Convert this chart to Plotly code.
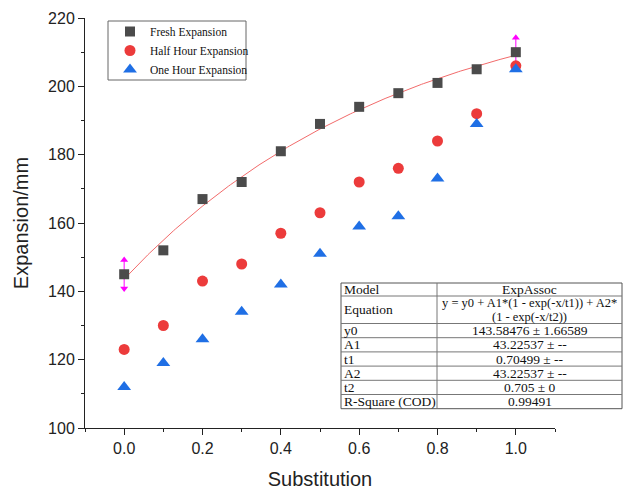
import numpy as np
import plotly.graph_objects as go

# ---- data ----
substitution = [0.0, 0.1, 0.2, 0.3, 0.4, 0.5, 0.6, 0.7, 0.8, 0.9, 1.0]
fresh = [145, 152, 167, 172, 181, 189, 194, 198, 201, 205, 210]
half_hour = [123, 130, 143, 148, 157, 163, 172, 176, 184, 192, 206]
one_hour = [112, 119, 126, 134, 142, 151, 159, 162, 173, 189, 205]

# fit parameters (ExpAssoc) as shown in the table
fit_y0 = 143.58476
fit_A1 = 43.22537
fit_t1 = 0.70499
fit_A2 = 43.22537
fit_t2 = 0.705

table_rows = [
    ("Model", ["ExpAssoc"]),
    ("Equation", ["y = y0 + A1*(1 - exp(-x/t1)) + A2*", "(1 - exp(-x/t2))"]),
    ("y0", ["143.58476 ± 1.66589"]),
    ("A1", ["43.22537 ± --"]),
    ("t1", ["0.70499 ± --"]),
    ("A2", ["43.22537 ± --"]),
    ("t2", ["0.705 ± 0"]),
    ("R-Square (COD)", ["0.99491"]),
]

# ---- figure geometry (pixels) ----
W, H = 625, 495
ML, MR, MT, MB = 85, 70, 18, 67
PW, PH = W - ML - MR, H - MT - MB


def px(xp):
    return (xp - ML) / PW


def py(yp):
    return (H - MB - yp) / PH


fig = go.Figure()

# fit curve
xf = np.linspace(min(substitution), max(substitution), 200)
yf = fit_y0 + fit_A1 * (1 - np.exp(-xf / fit_t1)) + fit_A2 * (1 - np.exp(-xf / fit_t2))
fig.add_trace(go.Scatter(x=xf, y=yf, mode="lines", line=dict(color="#f26b6b", width=1),
                         showlegend=False, hoverinfo="skip"))

# fit-range arrows at the first and last fresh points
arrow_off = 4.2
for xi, yi in [(substitution[0], fresh[0]), (substitution[-1], fresh[-1])]:
    fig.add_trace(go.Scatter(x=[xi, xi], y=[yi - arrow_off, yi + arrow_off], mode="lines+markers",
                             line=dict(color="#ff00ff", width=1),
                             marker=dict(symbol=["triangle-down", "triangle-up"], size=7, color="#ff00ff"),
                             showlegend=False, hoverinfo="skip"))

fig.add_trace(go.Scatter(x=substitution, y=fresh, mode="markers", name="Fresh Expansion",
                         marker=dict(symbol="square", size=10, color="#4b4b4b")))
fig.add_trace(go.Scatter(x=substitution, y=half_hour, mode="markers", name="Half Hour Expansion",
                         marker=dict(symbol="circle", size=11, color="#ec3b3b")))
fig.add_trace(go.Scatter(x=substitution, y=one_hour, mode="markers", name="One Hour Expansion",
                         marker=dict(symbol="triangle-up", size=12, color="#1f6fe5")))

# ---- table ----
serif = "Liberation Serif, Times New Roman, serif"
tx0, tx1, tx2 = 341, 437, 622
row_edges = [283, 296, 323.5, 337.7, 351.9, 366.1, 380.3, 394.5, 408.7]
shapes = []
# legend frame
shapes.append(dict(type="rect", xref="paper", yref="paper", x0=px(108), x1=px(246),
                   y0=py(80), y1=py(21), line=dict(color="#666666", width=1), layer="below"))
shapes.append(dict(type="rect", xref="paper", yref="paper", x0=px(tx0), x1=px(tx2),
                   y0=py(row_edges[-1]), y1=py(row_edges[0]), fillcolor="white",
                   line=dict(color="#555555", width=1), layer="above"))
for e in row_edges[1:-1]:
    shapes.append(dict(type="line", xref="paper", yref="paper", x0=px(tx0), x1=px(tx2),
                       y0=py(e), y1=py(e), line=dict(color="#777777", width=1), layer="above"))
shapes.append(dict(type="line", xref="paper", yref="paper", x0=px(tx1), x1=px(tx1),
                   y0=py(row_edges[-1]), y1=py(row_edges[0]), line=dict(color="#777777", width=1),
                   layer="above"))

annotations = []
for i, (k, vals) in enumerate(table_rows):
    yc = (row_edges[i] + row_edges[i + 1]) / 2
    annotations.append(dict(xref="paper", yref="paper", x=px(tx0 + 1), y=py(yc), text=k,
                            showarrow=False, xanchor="left", yanchor="middle",
                            font=dict(family=serif, size=13.5, color="#111")))
    n = len(vals)
    for j, v in enumerate(vals):
        yl = yc + (j - (n - 1) / 2) * 13.5
        annotations.append(dict(xref="paper", yref="paper", x=px((tx1 + tx2) / 2), y=py(yl), text=v,
                                showarrow=False, xanchor="center", yanchor="middle",
                                font=dict(family=serif, size=12.5 if n > 1 else 13.5, color="#111")))

fig.update_layout(
    width=W, height=H,
    margin=dict(l=ML, r=MR, t=MT, b=MB),
    paper_bgcolor="white", plot_bgcolor="white",
    shapes=shapes, annotations=annotations,
    legend=dict(x=px(110), y=py(17), xanchor="left", yanchor="top",
                borderwidth=0, bgcolor="rgba(0,0,0,0)",
                font=dict(family=serif, size=11.5, color="#111"),
                tracegroupgap=0, itemwidth=30),
    font=dict(family="Liberation Sans, Arial, sans-serif", color="#222"),
)

fig.update_xaxes(range=[-0.1, 1.1], tickvals=[0.0, 0.2, 0.4, 0.6, 0.8, 1.0],
                 ticktext=["0.0", "0.2", "0.4", "0.6", "0.8", "1.0"],
                 showgrid=False, zeroline=False, showline=True, linecolor="#222", linewidth=1,
                 ticks="outside", ticklen=6, tickcolor="#222", automargin=False,
                 minor=dict(dtick=0.1, tick0=0, ticks="outside", ticklen=3, tickcolor="#222"),
                 tickfont=dict(size=16),
                 title=dict(text="Substitution", font=dict(size=20), standoff=15))
fig.update_yaxes(range=[100, 220], tickvals=[100, 120, 140, 160, 180, 200, 220],
                 showgrid=False, zeroline=False, showline=True, linecolor="#222", linewidth=1,
                 ticks="outside", ticklen=6, tickcolor="#222", automargin=False,
                 minor=dict(dtick=10, tick0=100, ticks="outside", ticklen=3, tickcolor="#222"),
                 tickfont=dict(size=16),
                 title=dict(text="Expansion/mm", font=dict(size=20), standoff=14))

fig.write_html("out.html")
